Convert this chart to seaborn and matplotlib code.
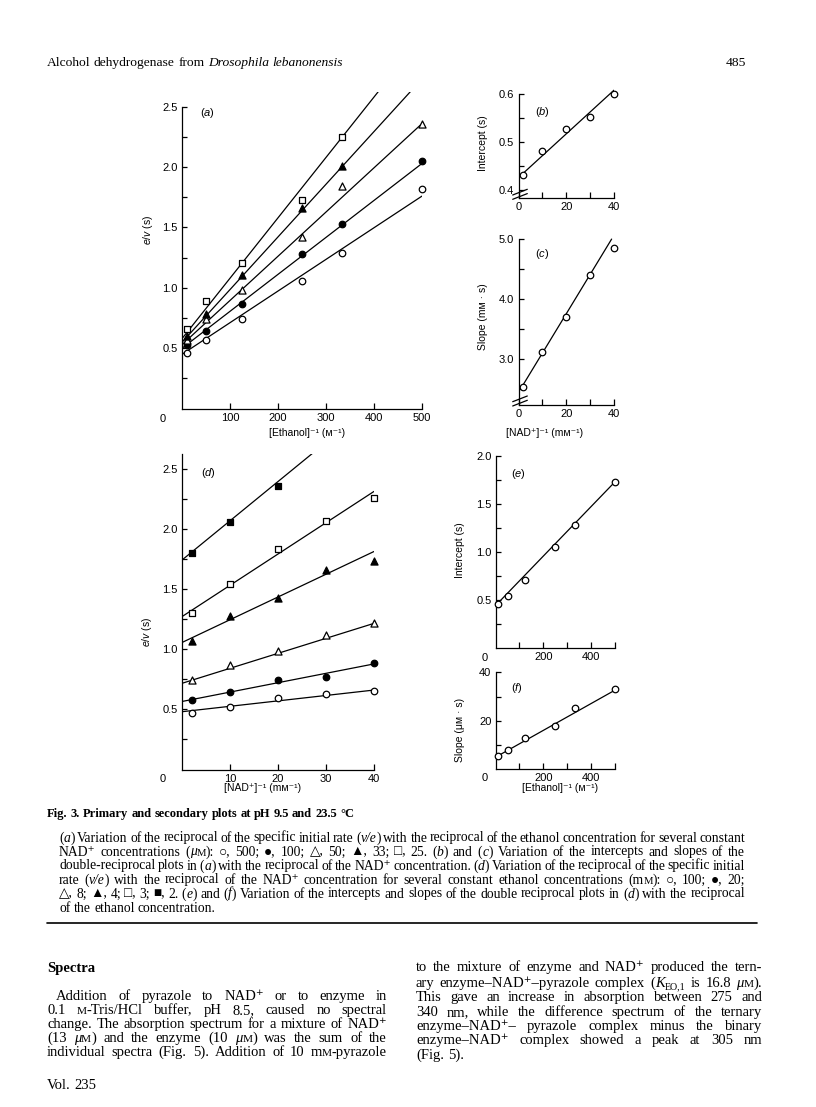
import matplotlib
matplotlib.use('Agg')
import numpy as np
import matplotlib.pyplot as plt
from matplotlib.ticker import FixedLocator, FormatStrFormatter
import seaborn as sns

# ── Data ─────────────────────────────────────────────────────
# (a) e/v against [Ethanol]^-1 for fixed NAD+ (uM)
eth_inv = [10, 50, 125, 250, 333, 500]                 # M^-1
a_nad500 = [0.46, 0.57, 0.745, 1.06, 1.29, 1.82]       # open circle
a_nad100 = [0.53, 0.646, 0.867, 1.28, 1.53, 2.05]      # filled circle
a_nad50 = [0.57, 0.74, 0.98, 1.42, 1.84, 2.36]         # open triangle
a_nad33 = [0.60, 0.78, 1.11, 1.66, 2.01]               # filled triangle
a_nad25 = [0.66, 0.89, 1.21, 1.73, 2.25]               # open square
a_fit_int = [0.45, 0.50, 0.53, 0.55, 0.58]
a_fit_slope = [0.00262, 0.00306, 0.00366, 0.00436, 0.0050]

# (b), (c) secondary plots against [NAD+]^-1
nad_inv = [2, 10, 20, 30, 40]                          # mM^-1
b_intercept = [0.431, 0.482, 0.527, 0.553, 0.601]
c_slope = [2.53, 3.12, 3.695, 4.40, 4.845]
b_fit = [0.426, 0.00455]
b_fit_range = [2, 40]
c_fit = [2.44, 0.0656]
c_fit_range = [1, 39]

# (d) e/v against [NAD+]^-1 for fixed ethanol (mM)
d_eth100 = [0.472, 0.52, 0.596, 0.627, 0.655]          # open circle
d_eth20 = [0.577, 0.641, 0.743, 0.771, 0.882]          # filled circle
d_eth8 = [0.743, 0.868, 0.984, 1.117, 1.22]            # open triangle
d_eth4 = [1.067, 1.275, 1.427, 1.657, 1.734]           # filled triangle
d_eth3 = [1.297, 1.538, 1.829, 2.067, 2.252]           # open square
d_eth2 = [1.80, 2.053, 2.357]                          # filled square
d_fit_int = [0.48, 0.565, 0.716, 1.055, 1.27, 1.74]
d_fit_slope = [0.0045, 0.0078, 0.01245, 0.0189, 0.026, 0.0326]

# (e), (f) secondary plots against [Ethanol]^-1
e_intercept = [0.46, 0.543, 0.709, 1.055, 1.28, 1.724]
f_slope = [5.5, 7.96, 12.8, 18.0, 25.1, 33.0]
e_fit = [0.444, 0.00257]
f_fit = [5.0, 0.0553]
ef_fit_range = [10, 500]

# ── Style ────────────────────────────────────────────────────
sns.set_theme(style='ticks', rc={
    'axes.edgecolor': 'black', 'axes.labelcolor': 'black', 'text.color': 'black',
    'xtick.color': 'black', 'ytick.color': 'black',
    'xtick.direction': 'in', 'ytick.direction': 'in',
    'axes.linewidth': 0.9, 'xtick.major.width': 0.9, 'ytick.major.width': 0.9,
    'xtick.minor.width': 0.9, 'ytick.minor.width': 0.9,
})
SANS = ['Liberation Sans', 'DejaVu Sans']
SERIF = ['Liberation Serif', 'DejaVu Serif', 'DejaVu Sans']
plt.rcParams['font.family'] = SANS
plt.rcParams['mathtext.fontset'] = 'custom'
plt.rcParams['mathtext.it'] = 'Liberation Sans:italic'
plt.rcParams['mathtext.rm'] = 'Liberation Sans'

W, H = 816, 1107
fig = plt.figure(figsize=(W / 100, H / 100), dpi=100)
fig.patch.set_facecolor('white')


def axes_px(left, right, bottom, top):
    return fig.add_axes([left / W, 1 - bottom / H, (right - left) / W, (bottom - top) / H])


def ax_xy(ax, x, y):
    return ax.transAxes.inverted().transform((x, H - y))


def style(ax, xmaj, xmin, ymaj, ymin, yfmt='%.1f', xfmt='%d'):
    sns.despine(ax=ax)
    ax.xaxis.set_major_locator(FixedLocator(xmaj))
    ax.xaxis.set_minor_locator(FixedLocator(xmin))
    ax.yaxis.set_major_locator(FixedLocator(ymaj))
    ax.yaxis.set_minor_locator(FixedLocator(ymin))
    ax.xaxis.set_major_formatter(FormatStrFormatter(xfmt))
    ax.yaxis.set_major_formatter(FormatStrFormatter(yfmt))
    ax.tick_params(axis='x', which='both', length=4.5, pad=3, labelsize=8)
    ax.tick_params(axis='y', which='both', length=3.5, pad=3, labelsize=8)
    ax.set_facecolor('none')


def pts(ax, x, y, marker, filled, s):
    sns.scatterplot(x=x[:len(y)], y=y, ax=ax, marker=marker, s=s,
                    facecolor='black' if filled else 'white', edgecolor='black',
                    linewidth=0.9, zorder=3, clip_on=False, legend=False)


def fit(ax, x0, x1, b, m):
    xs = np.array([x0, x1], dtype=float)
    sns.lineplot(x=xs, y=b + m * xs, ax=ax, color='black', lw=0.9, zorder=2)


def labels(ax, ylab, ypos, xlab=None, xpos=None):
    ax.set_ylabel(ylab, fontsize=7.5)
    ax.yaxis.set_label_coords(*ax_xy(ax, *ypos))
    ax.yaxis.label.set_va('center')
    if xlab:
        ax.set_xlabel(xlab, fontsize=7.5)
        ax.xaxis.set_label_coords(*ax_xy(ax, *xpos))
        ax.xaxis.label.set_va('center')


def ptext(x, y, s, **kw):
    kw.setdefault('fontsize', 8)
    fig.text(x / W, 1 - y / H, s, ha='center', va='center', **kw)


markers = [('o', False, 22), ('o', True, 22), ('^', False, 26),
           ('^', True, 26), ('s', False, 17), ('s', True, 17)]

# ── (a) ──────────────────────────────────────────────────────
ax = axes_px(182, 422, 408.7, 92.2)
ax.set_xlim(0, 500)
ax.set_ylim(0, 2.62)
for b, m in zip(a_fit_int, a_fit_slope):
    fit(ax, 0, 500, b, m)
for ys, (mk, fl, s) in zip([a_nad500, a_nad100, a_nad50, a_nad33, a_nad25], markers):
    pts(ax, eth_inv, ys, mk, fl, s)
style(ax, [100, 200, 300, 400, 500], [], [0.5, 1.0, 1.5, 2.0, 2.5],
      [0.25, 0.75, 1.25, 1.75, 2.25])
ax.spines['left'].set_bounds(0, 2.5)
labels(ax, '$e/v$ (s)', (148, 230), '[Ethanol]⁻¹ (ᴍ⁻¹)', (307, 433))
ax.text(*ax_xy(ax, 207, 113), '($a$)', transform=ax.transAxes, fontsize=8, ha='center', va='center')
ptext(163, 419, '0')

# ── (b) ──────────────────────────────────────────────────────
ax = axes_px(518.5, 614, 198.2, 86.8)
ax.set_xlim(0, 40)
ax.set_ylim(0.383, 0.615)
fit(ax, *b_fit_range, *b_fit)
pts(ax, nad_inv, b_intercept, 'o', False, 22)
style(ax, [0, 20, 40], [10, 30], [0.4, 0.5, 0.6], [0.45, 0.55])
ax.spines['left'].set_bounds(0.383, 0.6)
labels(ax, 'Intercept (s)', (483, 143))
ax.text(*ax_xy(ax, 542, 112), '($b$)', transform=ax.transAxes, fontsize=8, ha='center', va='center')
for yy in [(195, 189.3), (199.3, 193.6)]:
    ax.plot(*zip(ax_xy(ax, 512.7, yy[0]), ax_xy(ax, 527.3, yy[1])), transform=ax.transAxes,
            color='black', lw=0.9, clip_on=False)

# ── (c) ──────────────────────────────────────────────────────
ax = axes_px(518.5, 614, 405, 236)
ax.set_xlim(0, 40)
ax.set_ylim(2.23, 5.05)
fit(ax, *c_fit_range, *c_fit)
pts(ax, nad_inv, c_slope, 'o', False, 22)
style(ax, [0, 20, 40], [10, 30], [3.0, 4.0, 5.0], [2.5, 3.5, 4.5])
ax.spines['left'].set_bounds(2.23, 5.0)
labels(ax, 'Slope (mᴍ · s)', (483, 317), '[NAD⁺]⁻¹ (mᴍ⁻¹)', (545, 433))
ax.text(*ax_xy(ax, 542, 254), '($c$)', transform=ax.transAxes, fontsize=8, ha='center', va='center')
for yy in [(401.7, 396), (406, 400.3)]:
    ax.plot(*zip(ax_xy(ax, 512.7, yy[0]), ax_xy(ax, 527.3, yy[1])), transform=ax.transAxes,
            color='black', lw=0.9, clip_on=False)

# ── (d) ──────────────────────────────────────────────────────
ax = axes_px(182, 374, 769.5, 454.1)
ax.set_xlim(0, 40)
ax.set_ylim(0, 2.62)
for b, m in zip(d_fit_int, d_fit_slope):
    fit(ax, 0, 40, b, m)
for ys, (mk, fl, s) in zip([d_eth100, d_eth20, d_eth8, d_eth4, d_eth3, d_eth2], markers):
    pts(ax, nad_inv, ys, mk, fl, s)
style(ax, [10, 20, 30, 40], [], [0.5, 1.0, 1.5, 2.0, 2.5],
      [0.25, 0.75, 1.25, 1.75, 2.25])
labels(ax, '$e/v$ (s)', (147, 632), '[NAD⁺]⁻¹ (mᴍ⁻¹)', (263, 788))
ax.text(*ax_xy(ax, 208, 473), '($d$)', transform=ax.transAxes, fontsize=8, ha='center', va='center')
ptext(163, 779, '0')

# ── (e) ──────────────────────────────────────────────────────
ax = axes_px(495.6, 615, 648.3, 455.7)
ax.set_xlim(0, 500)
ax.set_ylim(0, 2.0)
fit(ax, *ef_fit_range, *e_fit)
pts(ax, eth_inv, e_intercept, 'o', False, 22)
style(ax, [200, 400], [100, 300, 500], [0.5, 1.0, 1.5, 2.0], [0.25, 0.75, 1.25, 1.75])
labels(ax, 'Intercept (s)', (460, 550))
ax.text(*ax_xy(ax, 518, 474), '($e$)', transform=ax.transAxes, fontsize=8, ha='center', va='center')
ptext(485, 658, '0')

# ── (f) ──────────────────────────────────────────────────────
ax = axes_px(495.6, 615, 769.3, 672.3)
ax.set_xlim(0, 500)
ax.set_ylim(0, 40)
fit(ax, *ef_fit_range, *f_fit)
pts(ax, eth_inv, f_slope, 'o', False, 22)
style(ax, [200, 400], [100, 300, 500], [20, 40], [10, 30], yfmt='%d')
labels(ax, 'Slope (μᴍ · s)', (460, 730), '[Ethanol]⁻¹ (ᴍ⁻¹)', (560, 788))
ax.text(*ax_xy(ax, 517, 688), '($f$)', transform=ax.transAxes, fontsize=8, ha='center', va='center')
ptext(485, 778, '0')

# ── Page text ────────────────────────────────────────────────
renderer = fig.canvas.get_renderer()


def put_line(x0, y, pieces, size, right=None, weight='normal', ha='left'):
    """Place a line of mixed-style words; justify to `right` if given."""
    words = [[]]
    for txt, st in pieces:
        for k, p in enumerate(txt.split(' ')):
            if k:
                words.append([])
            if p:
                words[-1].append((p, st))
    words = [w for w in words if w]
    placed, widths = [], []
    for w in words:
        row, tot = [], 0
        for p, st in w:
            kw = dict(fontsize=size, family=SERIF, weight=weight)
            dy = 0
            if st == 'i':
                kw['style'] = 'italic'
            elif st == 'b':
                kw['weight'] = 'bold'
            elif st == 'sc':
                kw['fontsize'] = size * 0.78
            elif st == 'sub':
                kw['fontsize'] = size * 0.68
                dy = 2.5
            t = fig.text(0, 0, p, va='baseline', ha='left', **kw)
            wd = t.get_window_extent(renderer).width
            row.append((t, wd, dy))
            tot += wd
        placed.append(row)
        widths.append(tot)
    gap = size * 100 / 72 * 0.25
    if right is not None and len(words) > 1:
        gap = (right - x0 - sum(widths)) / (len(words) - 1)
    x = x0
    if ha == 'right':
        x = x0 - sum(widths) - gap * (len(words) - 1)
    for row in placed:
        for t, wd, dy in row:
            t.set_position((x / W, 1 - (y + dy) / H))
            x += wd
        x += gap


n, i, sc, sub = 'n', 'i', 'sc', 'sub'

# running head
put_line(47, 66, [('Alcohol dehydrogenase from ', n), ('Drosophila lebanonensis', i)], 9.7)
put_line(746, 66, [('485', n)], 9.7, ha='right')

# caption
put_line(47, 817, [('Fig. 3. Primary and secondary plots at pH 9.5 and 23.5 °C', n)], 9.0, weight='bold')
cap_size, cap_r = 9.8, 745
cap_lines = [
    [('(', n), ('a', i), (') Variation of the reciprocal of the specific initial rate (', n), ('v/e', i),
     (') with the reciprocal of the ethanol concentration for several constant', n)],
    [('NAD⁺ concentrations (', n), ('μ', i), ('M', sc), ('): ○, 500; ●, 100; △, 50; ▲, 33; □, 25. (', n),
     ('b', i), (') and (', n), ('c', i), (') Variation of the intercepts and slopes of the', n)],
    [('double-reciprocal plots in (', n), ('a', i), (') with the reciprocal of the NAD⁺ concentration. (', n),
     ('d', i), (') Variation of the reciprocal of the specific initial', n)],
    [('rate (', n), ('v/e', i), (') with the reciprocal of the NAD⁺ concentration for several constant '
     'ethanol concentrations (m', n), ('M', sc), ('): ○, 100; ●, 20;', n)],
    [('△, 8; ▲, 4; □, 3; ■, 2. (', n), ('e', i), (') and (', n), ('f', i),
     (') Variation of the intercepts and slopes of the double reciprocal plots in (', n), ('d', i),
     (') with the reciprocal', n)],
]
for k, line in enumerate(cap_lines):
    put_line(59, 841.5 + 14 * k, line, cap_size, right=cap_r)
put_line(59, 841.5 + 14 * 5, [('of the ethanol concentration.', n)], cap_size)
fig.add_artist(plt.Line2D([47 / W, 757 / W], [1 - 923 / H] * 2, transform=fig.transFigure,
                          color='black', lw=1.2))

# body text
body = 10.5
put_line(47, 972, [('Spectra', n)], body, weight='bold')
left_lines = [
    [('Addition of pyrazole to NAD⁺ or to enzyme in', n)],
    [('0.1 ', n), ('M', sc), ('-Tris/HCl buffer, pH 8.5, caused no spectral', n)],
    [('change. The absorption spectrum for a mixture of NAD⁺', n)],
    [('(13 ', n), ('μ', i), ('M', sc), (') and the enzyme (10 ', n), ('μ', i), ('M', sc),
     (') was the sum of the', n)],
    [('individual spectra (Fig. 5). Addition of 10 m', n), ('M', sc), ('-pyrazole', n)],
]
for k, line in enumerate(left_lines):
    put_line(56 if k == 0 else 47, 1000 + 14 * k, line, body, right=387)
right_lines = [
    [('to the mixture of enzyme and NAD⁺ produced the tern-', n)],
    [('ary enzyme–NAD⁺–pyrazole complex (', n), ('K', i), ('EO,1', sub), (' is 16.8 ', n), ('μ', i),
     ('M', sc), (').', n)],
    [('This gave an increase in absorption between 275 and', n)],
    [('340 nm, while the difference spectrum of the ternary', n)],
    [('enzyme–NAD⁺– pyrazole complex minus the binary', n)],
    [('enzyme–NAD⁺ complex showed a peak at 305 nm', n)],
]
right_y = [971, 987, 1001, 1016, 1030, 1044]
for yy, line in zip(right_y, right_lines):
    put_line(416, yy, line, body, right=762)
put_line(416, 1059, [('(Fig. 5).', n)], body)
put_line(47, 1089, [('Vol. 235', n)], body)

fig.savefig('out.png', dpi=100, facecolor='white')
